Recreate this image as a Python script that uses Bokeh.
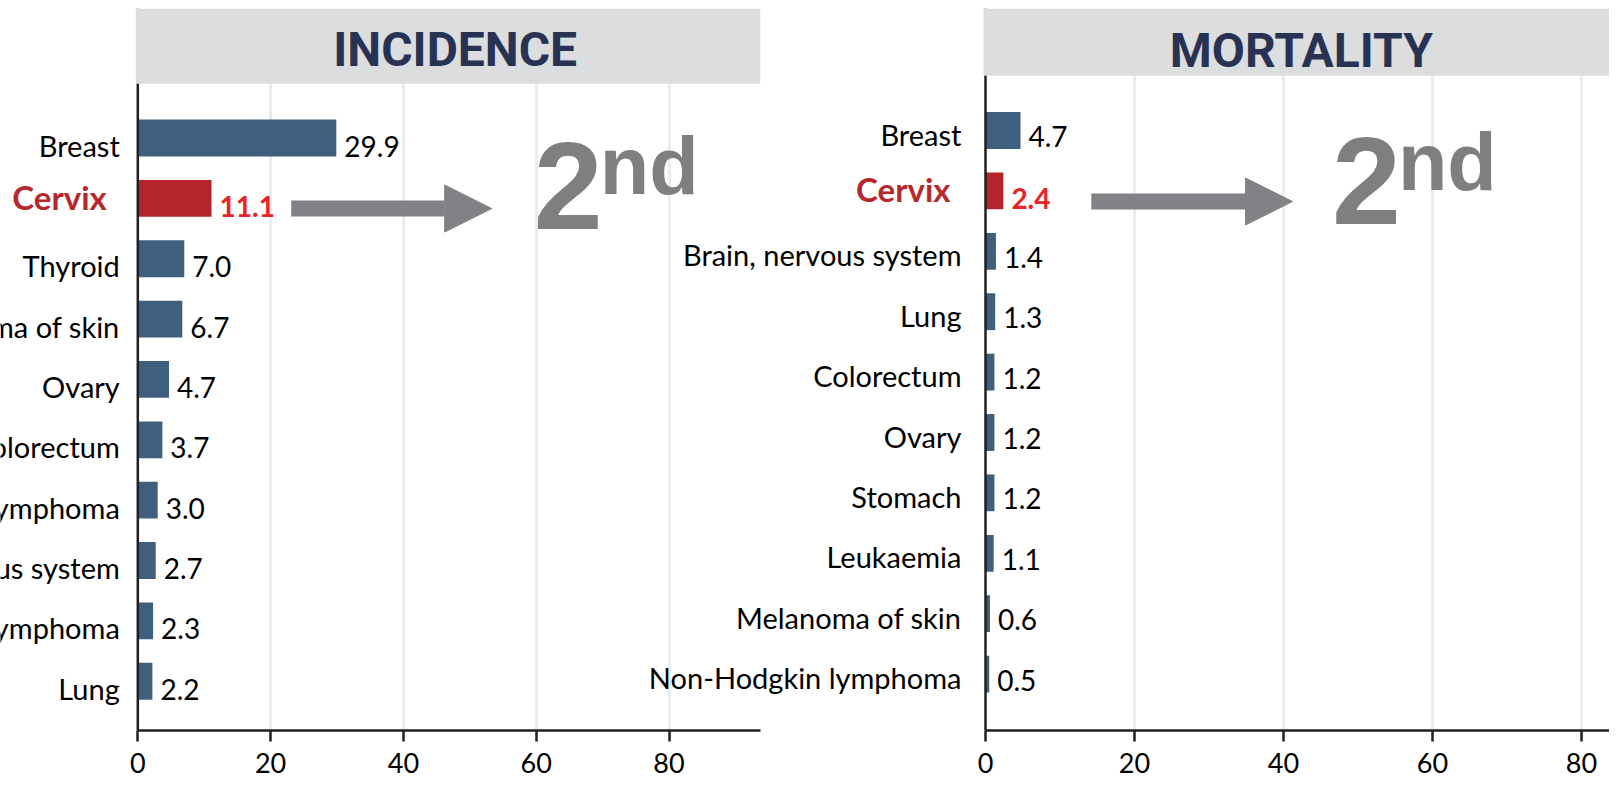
from bokeh.plotting import figure
from bokeh.models import (ColumnDataSource, Range1d, FixedTicker, LabelSet, Span,
                          BoxAnnotation, Arrow, NormalHead)
from bokeh.layouts import row
from bokeh.core.properties import value
from bokeh.embed import file_html
from bokeh.resources import INLINE

# ---------------- data ----------------
panel_titles = ["INCIDENCE", "MORTALITY"]
inc_sites = ["Breast", "Cervix", "Thyroid", "Melanoma of skin", "Ovary", "Colorectum",
             "Non-Hodgkin lymphoma", "Brain, nervous system", "Hodgkin lymphoma", "Lung"]
inc_rates = [29.9, 11.1, 7.0, 6.7, 4.7, 3.7, 3.0, 2.7, 2.3, 2.2]
mort_sites = ["Breast", "Cervix", "Brain, nervous system", "Lung", "Colorectum", "Ovary",
              "Stomach", "Leukaemia", "Melanoma of skin", "Non-Hodgkin lymphoma"]
mort_rates = [4.7, 2.4, 1.4, 1.3, 1.2, 1.2, 1.2, 1.1, 0.6, 0.5]
x_ticks = [0, 20, 40, 60, 80]
grid_ticks = [20, 40, 60, 80]
highlight_site = "Cervix"

# ---------------- style ----------------
BAR = "#3e607e"
HI_BAR = "#b5242a"
HI_LABEL = "#b7282d"
HI_VALUE = "#ec2227"
HEADER_BG = "#dcdddf"
HEADER_TXT = "#283252"
ARROW_C = "#818285"
AXIS_C = "#231f20"
GRID_C = "#e6eef2"
RANK_C = "#7f7f7f"
FONT = "Lato"

H = 785
BORDER_TOP = 8
BORDER_BOTTOM = 55
LEFT = dict(width=770, margin=(0, 0, 0, 0), border_right=10, axis_px=137.3, unit_px=6.64,
            row0_px=129.5, row_px=60.36,
            header_px=75.3, title_x=47.8, title_base=57.7, cat_dx=-18, cat_dy=18.5,
            hi_cat_dx=-31, hi_cat_dy=11.5, val_dx=8, val_dy=18.5, hi_val_dy=18.8,
            arrow=(23.1, 53.3), arrow_dy=10.2, rank_x=60.1, rank_dy=30.5, sup_dy=-4.0,
            standoff=11, transparent=False)
RIGHT = dict(width=1009, margin=(0, 0, 0, -170), border_right=0, axis_px=385.0, unit_px=7.45,
             row0_px=122.0, row_px=60.4,
             header_px=67.3, title_x=42.4, title_base=58.0, cat_dx=-24, cat_dy=15,
             hi_cat_dx=-35, hi_cat_dy=11.5, val_dx=8, val_dy=16.5, hi_val_dy=18,
             arrow=(14.2, 41.2), arrow_dy=10.6, rank_x=46.9, rank_dy=33.0, sup_dy=-1.0,
             standoff=11, transparent=True)


def ordinal_suffix(n):
    if 10 <= n % 100 <= 20:
        return "th"
    return {1: "st", 2: "nd", 3: "rd"}.get(n % 10, "th")


def build_panel(title, sites, rates, g):
    n = len(sites)
    idx = list(range(n))
    hi = sites.index(highlight_site)

    # vertical scale
    frame_h = H - BORDER_TOP - BORDER_BOTTOM
    ppu = g["row_px"]
    y_top = -g["row0_px"] / ppu
    y_bottom = y_top + frame_h / ppu
    header_bottom = y_top + g["header_px"] / ppu
    # horizontal scale (frame spans the label area too; value 0 sits at axis_px)
    frame_w = g["width"] - g["border_right"]
    x_start = -g["axis_px"] / g["unit_px"]
    x_end = x_start + frame_w / g["unit_px"]

    labels = [f"{r:.1f}" for r in rates]
    src = ColumnDataSource(dict(idx=idx, site=sites, rate=rates, label=labels,
                                color=[HI_BAR if s == highlight_site else BAR for s in sites]))
    keep = [i for i in idx if i != hi]
    norm_src = ColumnDataSource(dict(idx=keep, site=[sites[i] for i in keep],
                                     rate=[rates[i] for i in keep],
                                     label=[labels[i] for i in keep]))
    hi_src = ColumnDataSource(dict(idx=[hi], site=[sites[hi]], rate=[rates[hi]],
                                   label=[labels[hi]]))

    bg = None if g["transparent"] else "white"
    p = figure(width=g["width"], height=H,
               x_range=Range1d(x_start, x_end),
               y_range=Range1d(y_bottom, y_top),
               output_backend="svg", toolbar_location=None,
               min_border_left=0, min_border_right=g["border_right"],
               min_border_top=BORDER_TOP, min_border_bottom=BORDER_BOTTOM,
               background_fill_color=bg, border_fill_color=bg,
               outline_line_color=None, margin=g["margin"])

    # grid
    p.ygrid.visible = False
    p.xgrid.ticker = FixedTicker(ticks=grid_ticks)
    p.xgrid.grid_line_color = GRID_C
    p.xgrid.grid_line_width = 3

    # x axis (starts at 0)
    xa = p.xaxis[0]
    xa.ticker = FixedTicker(ticks=x_ticks)
    xa.bounds = (0, x_end)
    xa.axis_line_color = AXIS_C
    xa.axis_line_width = 2.5
    xa.major_tick_line_color = AXIS_C
    xa.major_tick_line_width = 2.5
    xa.major_tick_in = 0
    xa.major_tick_out = 11
    xa.minor_tick_line_color = None
    xa.major_label_text_font = FONT
    xa.major_label_text_font_size = "27px"
    xa.major_label_text_color = "#000000"
    xa.major_label_standoff = g["standoff"]

    p.yaxis.visible = False
    # vertical baseline at value 0
    p.add_layout(Span(location=0, dimension="height", line_color=AXIS_C, line_width=2.5))

    # bars
    p.hbar(y="idx", left=0, right="rate", height=0.61, fill_color="color",
           line_color=None, source=src)

    # header band + title (band drawn over the top of the baseline)
    p.add_layout(BoxAnnotation(left=-2.0 / g["unit_px"], right=x_end, top=y_top,
                               bottom=header_bottom, fill_color=HEADER_BG, fill_alpha=1.0,
                               line_color=None))
    title_src = ColumnDataSource(dict(x=[g["title_x"]], y=[y_top], t=[title]))
    p.add_layout(LabelSet(x="x", y="y", text="t", source=title_src,
                          y_offset=-g["title_base"], text_align="center",
                          text_baseline="alphabetic", text_font=value("Roboto"),
                          text_font_style="bold", text_font_size="48px",
                          text_color=HEADER_TXT))

    # category labels
    p.add_layout(LabelSet(x=0, y="idx", text="site", source=norm_src,
                          x_offset=g["cat_dx"], y_offset=-g["cat_dy"],
                          text_align="right", text_baseline="alphabetic",
                          text_font=value(FONT), text_font_size="29px", text_color="#000000"))
    p.add_layout(LabelSet(x=0, y="idx", text="site", source=hi_src,
                          x_offset=g["hi_cat_dx"], y_offset=-g["hi_cat_dy"],
                          text_align="right", text_baseline="alphabetic",
                          text_font=value(FONT), text_font_style="bold",
                          text_font_size="33px", text_color=HI_LABEL))

    # value labels
    p.add_layout(LabelSet(x="rate", y="idx", text="label", source=norm_src,
                          x_offset=g["val_dx"], y_offset=-g["val_dy"],
                          text_align="left", text_baseline="alphabetic",
                          text_font=value(FONT), text_font_size="28px", text_color="#000000"))
    p.add_layout(LabelSet(x="rate", y="idx", text="label", source=hi_src,
                          x_offset=g["val_dx"], y_offset=-g["hi_val_dy"],
                          text_align="left", text_baseline="alphabetic",
                          text_font=value(FONT), text_font_style="bold",
                          text_font_size="28px", text_color=HI_VALUE))

    # arrow
    ay = hi + g["arrow_dy"] / ppu
    p.add_layout(Arrow(end=NormalHead(size=47, fill_color=ARROW_C, line_color=ARROW_C,
                                      line_width=1),
                       x_start=g["arrow"][0], y_start=ay, x_end=g["arrow"][1], y_end=ay,
                       line_color=ARROW_C, line_width=16))

    # rank text ("2" + superscript "nd")
    rank = hi + 1
    rank_src = ColumnDataSource(dict(x=[g["rank_x"]], y=[hi], t=[str(rank)]))
    sup_src = ColumnDataSource(dict(x=[g["rank_x"]], y=[hi], t=[ordinal_suffix(rank)]))
    p.add_layout(LabelSet(x="x", y="y", text="t", source=rank_src,
                          x_offset=-3, y_offset=-g["rank_dy"],
                          text_align="left", text_baseline="alphabetic",
                          text_font=value("Liberation Sans"), text_font_style="bold",
                          text_font_size="124px", text_color=RANK_C))
    p.add_layout(LabelSet(x="x", y="y", text="t", source=sup_src,
                          x_offset=63, y_offset=-g["sup_dy"],
                          text_align="left", text_baseline="alphabetic",
                          text_font=value("Liberation Sans"), text_font_style="bold",
                          text_font_size="81px", text_color=RANK_C))
    return p


p_inc = build_panel(panel_titles[0], inc_sites, inc_rates, LEFT)
p_mort = build_panel(panel_titles[1], mort_sites, mort_rates, RIGHT)
layout = row(p_inc, p_mort)

open("out.html", "w").write(file_html(layout, INLINE))
